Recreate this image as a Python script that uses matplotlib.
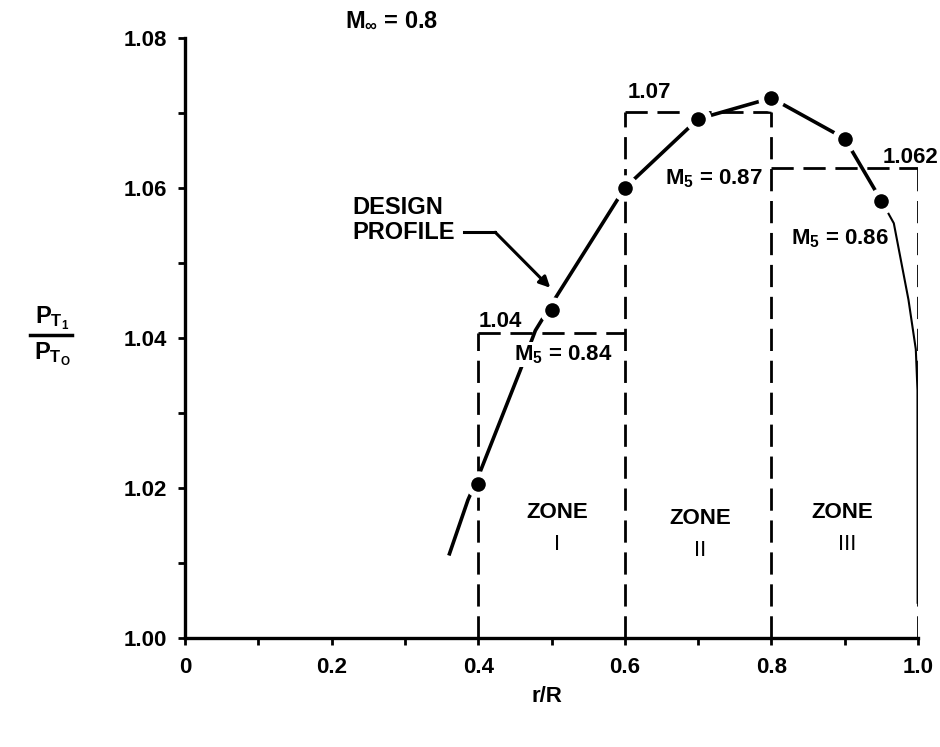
import matplotlib
matplotlib.use("Agg")
import matplotlib.pyplot as plt
from matplotlib.ticker import MultipleLocator, FixedLocator

plt.rcParams['font.family'] = ['Liberation Sans', 'DejaVu Sans']
plt.rcParams['font.weight'] = 'bold'
plt.rcParams['mathtext.fontset'] = 'custom'
plt.rcParams['mathtext.rm'] = 'Liberation Sans:bold'
plt.rcParams['mathtext.it'] = 'Liberation Sans:bold'
plt.rcParams['mathtext.bf'] = 'Liberation Sans:bold'
plt.rcParams['lines.scale_dashes'] = False

# ---- data ----
point_r = [0.40, 0.50, 0.60, 0.70, 0.80, 0.90, 0.95]
point_p = [1.0205, 1.0438, 1.0600, 1.0692, 1.0720, 1.0666, 1.0583]

curve_r = [0.36, 0.386, 0.40, 0.457, 0.478, 0.50, 0.60, 0.70, 0.80, 0.90, 0.95]
curve_p = [1.011, 1.0184, 1.0215, 1.0356, 1.041, 1.0445, 1.0600, 1.0692, 1.0720, 1.0666, 1.0583]

tail_r = [0.95, 0.967, 0.987, 0.997, 0.9993, 0.9995]
tail_p = [1.0583, 1.0553, 1.0451, 1.0385, 1.0330, 1.0047]

zone_edges = [0.4, 0.6, 0.8, 1.0]
zone_levels = [1.0407, 1.0701, 1.0627]
zone_level_labels = ['1.04', '1.07', '1.062']
zone_mach_labels = ['0.84', '0.87', '0.86']
zone_names = ['I', 'II', 'III']

x_ticks = [0, 0.2, 0.4, 0.6, 0.8, 1.0]
x_tick_labels = ['0', '0.2', '0.4', '0.6', '0.8', '1.0']
y_ticks = [1.00, 1.02, 1.04, 1.06, 1.08]
y_tick_labels = ['1.00', '1.02', '1.04', '1.06', '1.08']

# ---- figure ----
W, H = 940, 747
fig = plt.figure(figsize=(W / 100, H / 100), dpi=100)
x0, x1, ytop, ybot = 185, 918, 38, 638
ax = fig.add_axes([x0 / W, (H - ybot) / H, (x1 - x0) / W, (ybot - ytop) / H])
ax.set_xlim(0, 1.0)
ax.set_ylim(1.00, 1.08)

for s in ['top', 'right']:
    ax.spines[s].set_visible(False)
for s in ['left', 'bottom']:
    ax.spines[s].set_linewidth(2.4)
    ax.spines[s].set_color('black')

FS = 16
ax.xaxis.set_major_locator(FixedLocator(x_ticks))
ax.set_xticklabels(x_tick_labels)
ax.xaxis.set_minor_locator(MultipleLocator(0.1))
ax.yaxis.set_major_locator(FixedLocator(y_ticks))
ax.set_yticklabels(y_tick_labels)
ax.yaxis.set_minor_locator(MultipleLocator(0.01))
ax.tick_params(which='both', direction='out', length=5, width=2, color='black')
ax.tick_params(axis='x', which='major', labelsize=FS, pad=9)
ax.tick_params(axis='y', which='major', labelsize=FS, pad=8)
for lab in ax.get_xticklabels() + ax.get_yticklabels():
    lab.set_fontweight('bold')

dash = (0, (16, 7))
# zone boundaries (vertical dashed lines)
vert_tops = []
for i, xe in enumerate(zone_edges):
    adj = []
    if i > 0:
        adj.append(zone_levels[i - 1])
    if i < len(zone_levels):
        adj.append(zone_levels[i])
    vert_tops.append(max(adj))
for xe, top in zip(zone_edges, vert_tops):
    ax.plot([xe, xe], [1.0, top], color='black', lw=2.0, linestyle=dash, zorder=1)
for i, lvl in enumerate(zone_levels):
    ax.plot([zone_edges[i], zone_edges[i + 1]], [lvl, lvl], color='black', lw=2.0,
            linestyle=dash, zorder=1)

# curves
ax.plot(curve_r, curve_p, color='black', lw=2.6, zorder=2, solid_capstyle='butt')
ax.plot(tail_r, tail_p, color='black', lw=1.5, zorder=2)

# markers with white halo to break the line
ax.plot(point_r, point_p, 'o', color='white', ms=19, zorder=3, mew=0)
ax.plot(point_r, point_p, 'o', color='black', ms=10.5, zorder=4, mew=0)

tkw = dict(fontsize=FS, fontweight='bold', color='black')
# zone level labels
ax.text(0.400, 1.0422, zone_level_labels[0], ha='left', va='center', **tkw)
ax.text(0.633, 1.0727, zone_level_labels[1], ha='center', va='center', **tkw)
ax.text(0.990, 1.0641, zone_level_labels[2], ha='center', va='center', **tkw)

# Mach labels
bb = dict(facecolor='white', edgecolor='none', pad=1)
ax.text(0.516, 1.0378, r'M$_5$ = ' + zone_mach_labels[0], ha='center', va='center',
        bbox=bb, zorder=5, **tkw)
ax.text(0.721, 1.0613, r'M$_5$ = ' + zone_mach_labels[1], ha='center', va='center',
        zorder=5, **tkw)
ax.text(0.894, 1.0533, r'M$_5$ = ' + zone_mach_labels[2], ha='center', va='center',
        zorder=5, **tkw)

# zone names
zone_label_x = [0.508, 0.703, 0.896]
zone_label_y = [1.0168, 1.0160, 1.0168]
num_x = [0.508, 0.703, 0.904]
for zx, zy, nx, nm in zip(zone_label_x, zone_label_y, num_x, zone_names):
    ax.text(zx, zy, 'ZONE', ha='center', va='center', **tkw)
    ax.text(nx, zy - 0.0044, nm, ha='center', va='center',
            fontsize=FS, fontweight='normal', color='black')

# design profile label + arrow
ax.text(0.228, 1.0557, 'DESIGN\nPROFILE', ha='left', va='center', fontsize=17,
        fontweight='bold', linespacing=1.1)
ax.plot([0.381, 0.4232], [1.0541, 1.0541], color='black', lw=2.2, zorder=2)
ax.annotate('', xy=(0.4983, 1.0467), xytext=(0.4232, 1.0541),
            arrowprops=dict(arrowstyle='-|>', color='black', lw=2.2,
                            mutation_scale=16, shrinkA=0, shrinkB=0))

# axis label
fig.text(547 / W, 1 - 697 / H, 'r/R', ha='center', va='center', fontsize=FS,
         fontweight='bold')

# y label as fraction
fig.text(52 / W, 1 - 318 / H, r'P$_{\mathrm{T}_{\mathrm{1}}}$', ha='center', va='center',
         fontsize=17, fontweight='bold')
fig.text(52 / W, 1 - 354 / H, r'P$_{\mathrm{T}_{\mathrm{O}}}$', ha='center', va='center',
         fontsize=17, fontweight='bold')
fig.add_artist(plt.Line2D([30 / W, 72 / W], [1 - 335 / H, 1 - 335 / H], color='black',
                          lw=2.5, transform=fig.transFigure))

# free stream Mach
fig.text(345 / W, 1 - 20 / H, r'M$_\infty$ = 0.8', ha='left', va='center', fontsize=17,
         fontweight='bold')

fig.savefig('out.png', dpi=100)
